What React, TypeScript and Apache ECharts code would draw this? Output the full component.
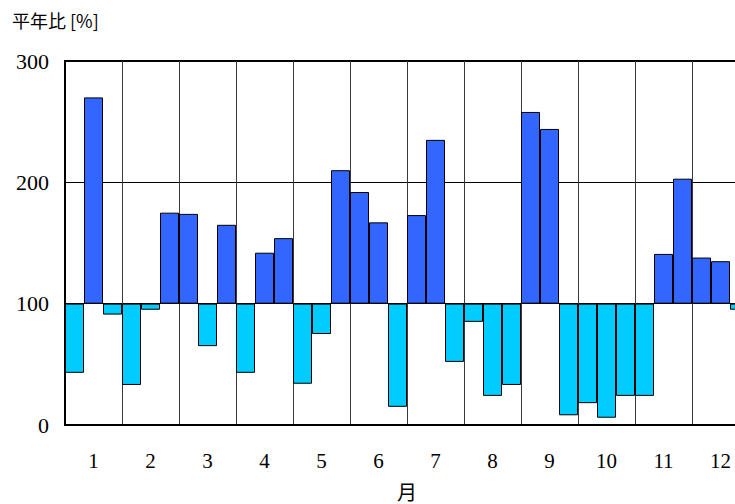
import React, { useEffect, useRef } from "react";
import * as echarts from "echarts";

// Month tick labels
const months = ["1", "2", "3", "4", "5", "6", "7", "8", "9", "10", "11", "12"];
// Dekads (上旬・中旬・下旬) for each month
const dekadNames = ["上旬", "中旬", "下旬"];
const dekads = months.flatMap((m) => dekadNames.map((d) => `${m}月${d}`));
// Ratio to normal [%] for each dekad
const ratio = [
  43, 270, 91,
  33, 95, 175,
  174, 65, 165,
  43, 142, 154,
  34, 75, 210,
  192, 167, 15,
  173, 235, 52,
  85, 24, 33,
  258, 244, 8,
  18, 6, 24,
  24, 141, 203,
  138, 135, 95,
];
const yTicks = [0, 100, 200, 300];
const BASE = 100;

export default function App() {
  const ref = useRef<HTMLDivElement>(null);
  useEffect(() => {
    if (!ref.current) return;
    const chart = echarts.init(ref.current, null, { renderer: "svg" });
    const serif = "'Liberation Serif', 'Times New Roman', serif";
    const cjk = "'Noto Sans CJK JP', 'Noto Sans', sans-serif";
    chart.setOption({
      animation: false,
      backgroundColor: "#ffffff",
      grid: {
        left: 65,
        top: 61,
        right: 11,
        bottom: 79,
        containLabel: false,
        outerBoundsMode: "none",
        show: true,
        borderColor: "#000",
        borderWidth: 2,
        backgroundColor: "transparent",
      },
      graphic: [
        {
          type: "text",
          left: 12,
          top: 11,
          style: { text: "平年比 [%]", font: `18px ${cjk}`, fill: "#000" },
        },
      ],
      xAxis: [
        {
          type: "category",
          data: dekads,
          show: false,
          boundaryGap: true,
        },
        {
          type: "category",
          data: months,
          position: "bottom",
          boundaryGap: true,
          axisLine: { show: true, lineStyle: { color: "#000", width: 2 } },
          axisTick: { show: false },
          axisLabel: {
            color: "#000",
            fontFamily: serif,
            fontSize: 21,
            margin: 25,
            interval: 0,
          },
          splitLine: { show: true, lineStyle: { color: "#3a3a3a", width: 1 } },
          name: "月",
          nameLocation: "middle",
          nameGap: 56,
          nameTextStyle: { color: "#000", fontFamily: cjk, fontSize: 20 },
        },
      ],
      yAxis: {
        type: "value",
        min: yTicks[0],
        max: yTicks[yTicks.length - 1],
        interval: 100,
        axisLine: { show: true, lineStyle: { color: "#000", width: 2 } },
        axisTick: { show: false },
        axisLabel: { color: "#000", fontFamily: serif, fontSize: 22, margin: 16 },
        splitLine: { show: true, lineStyle: { color: "#000", width: 1 } },
      },
      series: [
        {
          type: "bar",
          xAxisIndex: 0,
          stack: "r",
          barCategoryGap: 0,
          silent: true,
          itemStyle: { color: "transparent", borderWidth: 0 },
          data: ratio.map((v) => Math.min(v, BASE)),
        },
        {
          type: "bar",
          xAxisIndex: 0,
          stack: "r",
          barCategoryGap: 0,
          data: ratio.map((v) => ({
            value: Math.abs(v - BASE),
            itemStyle: {
              color: v >= BASE ? "#3366ff" : "#00ccff",
              borderColor: "#000",
              borderWidth: 1,
            },
          })),
        },
      ],
    });
    return () => chart.dispose();
  }, []);
  return (
    <div
      style={{
        position: "fixed",
        left: 0,
        top: 0,
        width: 735,
        height: 504,
        overflow: "hidden",
        background: "#fff",
      }}
    >
      <div ref={ref} style={{ width: 760, height: 504 }} />
    </div>
  );
}
